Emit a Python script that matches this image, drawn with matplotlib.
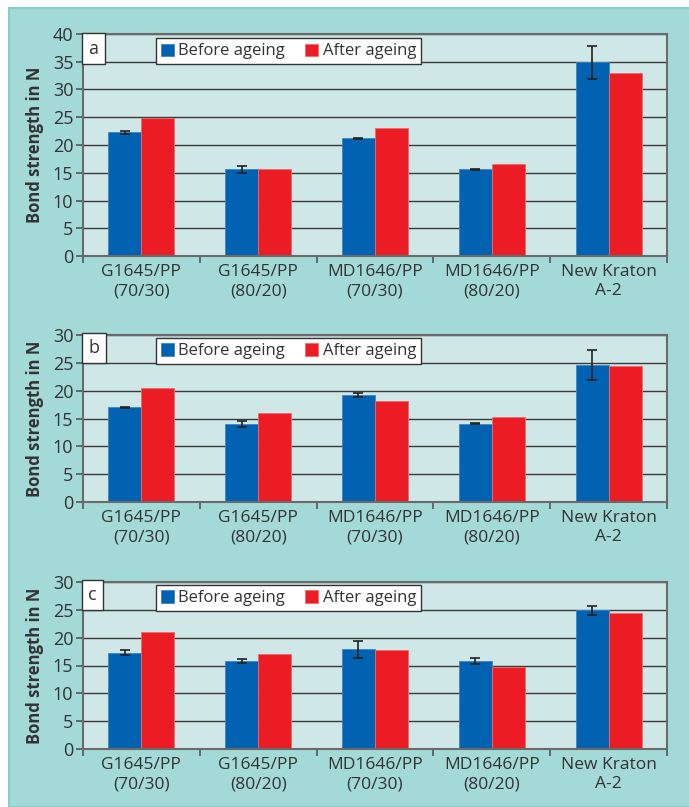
import matplotlib
matplotlib.use("Agg")
import matplotlib.pyplot as plt
from matplotlib.patches import Rectangle
import numpy as np

plt.rcParams['font.family'] = ['Open Sans', 'DejaVu Sans']

categories = ["G1645/PP\n(70/30)", "G1645/PP\n(80/20)", "MD1646/PP\n(70/30)",
              "MD1646/PP\n(80/20)", "New Kraton\nA-2"]
series_names = ["Before ageing", "After ageing"]

before_a = [22.3, 15.6, 21.2, 15.6, 34.9]
before_a_err = [0.3, 0.65, 0.1, 0.1, 3.0]
after_a = [24.9, 15.6, 23.0, 16.6, 33.0]

before_b = [17.0, 14.0, 19.3, 14.1, 24.6]
before_b_err = [0.1, 0.6, 0.35, 0.1, 2.7]
after_b = [20.5, 16.0, 18.2, 15.2, 24.4]

before_c = [17.3, 15.8, 17.9, 15.8, 24.9]
before_c_err = [0.5, 0.4, 1.5, 0.6, 0.75]
after_c = [21.0, 17.1, 17.7, 14.8, 24.4]

panels = [
    ("a", before_a, before_a_err, after_a, 40),
    ("b", before_b, before_b_err, after_b, 30),
    ("c", before_c, before_c_err, after_c, 30),
]

BLUE = "#0062b0"
RED = "#ec1c24"
TEXT = "#333333"

fig = plt.figure(figsize=(6.89, 8.07), dpi=100)
fig.patch.set_facecolor("white")
bg = Rectangle((9 / 689, 0), 1, 1 - 8 / 807, transform=fig.transFigure,
               facecolor="#a3d9d6", edgecolor="#86cfc9", lw=1.5, zorder=-10)
fig.add_artist(bg)

left = 83 / 689
width = (667 - 83) / 689
positions = [(256, 34), (502, 335), (749, 582)]

x = np.arange(len(categories))
bw = 0.283

for (label, before, berr, after, ymax), (bot, top) in zip(panels, positions):
    ax = fig.add_axes([left, 1 - bot / 807, width, (bot - top) / 807])
    ax.set_zorder(1)
    ax.set_facecolor("#cfe8e7")
    ax.set_axisbelow(True)
    ax.yaxis.grid(True, color="#3a3a3a", lw=1.0)
    ax.bar(x - bw / 2, before, bw, color=BLUE, edgecolor="#3d86c6", lw=0.6, label=series_names[0], zorder=2)
    ax.bar(x + bw / 2, after, bw, color=RED, edgecolor="#f06a6e", lw=0.6, label=series_names[1], zorder=2)
    ax.errorbar(x - bw / 2, before, yerr=berr, fmt="none", ecolor="#222222", elinewidth=1.2,
                capsize=3.5, capthick=1.2, zorder=3)
    ax.set_xlim(-0.5, len(categories) - 0.5)
    ax.set_ylim(0, ymax)
    ax.set_yticks(np.arange(0, ymax + 1, 5))
    ax.set_xticks(np.arange(-0.5, len(categories), 1.0))
    ax.set_xticklabels([])
    ax.set_xticks(x, minor=True)
    ax.set_xticklabels(categories, minor=True, fontsize=12.5, color=TEXT, linespacing=1.25)
    ax.tick_params(axis="x", which="minor", length=0, pad=6)
    ax.tick_params(axis="x", which="major", length=5, color="#555555", width=1.2)
    ax.tick_params(axis="y", length=5, color="#555555", width=1.2, labelsize=13, labelcolor=TEXT, pad=2)
    for s in ax.spines.values():
        s.set_color("#6a6a6a")
        s.set_linewidth(1.5)
    ax.set_ylabel("Bond strength in N", fontsize=12, fontweight="bold", color=TEXT, labelpad=6)
    ax.text(0.009, 0.975, label, transform=ax.transAxes, ha="left", va="top", fontsize=13, color=TEXT,
            bbox=dict(boxstyle="square,pad=0.35", fc="white", ec="#333333", lw=1.0), zorder=5)
    leg = ax.legend(loc="upper left", bbox_to_anchor=(0.125, 0.98), ncol=2, fontsize=12,
                    frameon=True, fancybox=False, edgecolor="#333333", framealpha=1,
                    handlelength=0.75, handleheight=0.75, handletextpad=0.3, columnspacing=1.2,
                    borderpad=0.3, borderaxespad=0)
    leg.get_frame().set_linewidth(1.0)
    for t in leg.get_texts():
        t.set_color(TEXT)

fig.savefig("out.png", dpi=100, facecolor="white")
